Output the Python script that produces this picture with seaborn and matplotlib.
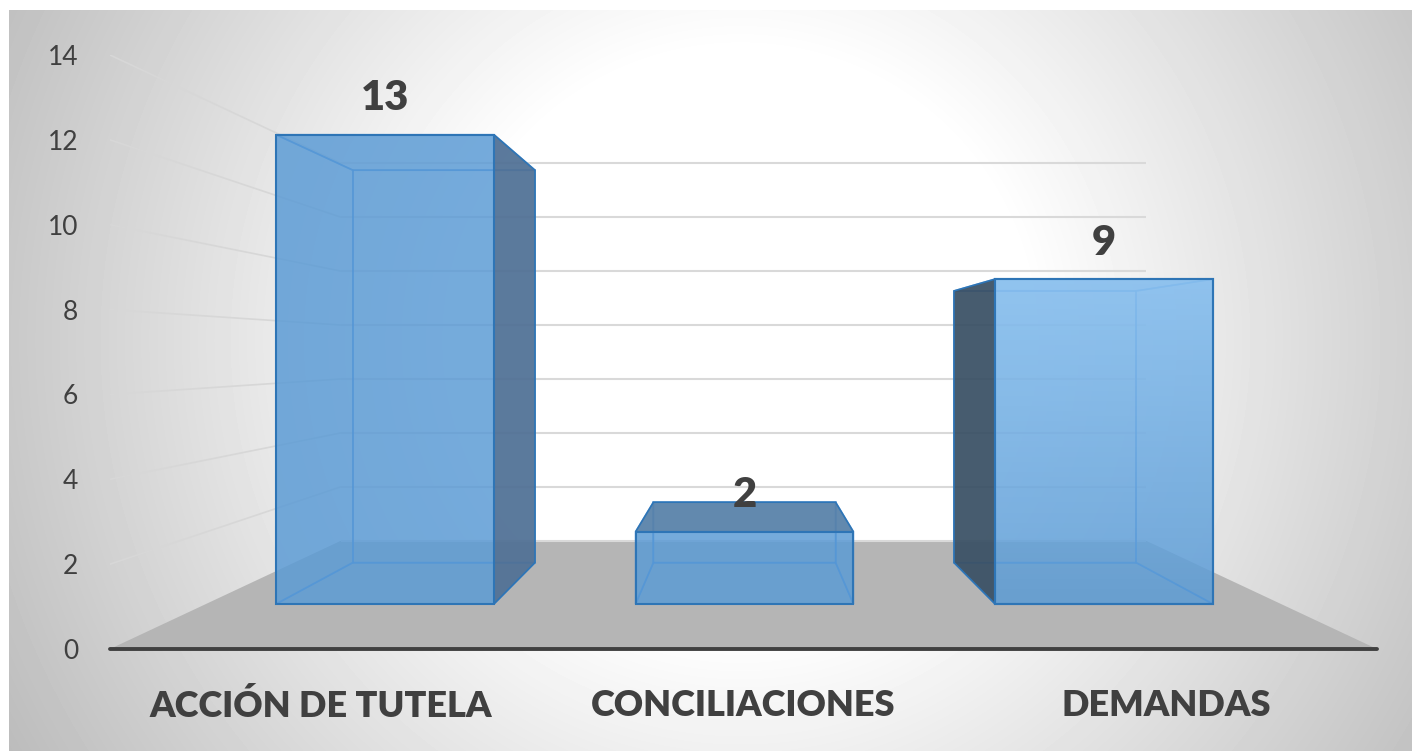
### 3D style bar chart, drawn with a perspective projection on top of seaborn bars.

import matplotlib
matplotlib.use('Agg')
import matplotlib.pyplot as plt
import numpy as np
import pandas as pd
import seaborn as sns
from matplotlib.colors import to_rgba
from matplotlib.patches import Polygon

categories = ['ACCIÓN DE TUTELA', 'CONCILIACIONES', 'DEMANDAS']
values = [13, 2, 9]
yticks = [0, 2, 4, 6, 8, 10, 12, 14]
bar_colors = ['#5b9bd5', '#5b9bd5', '#5b9bd5']

W, H = 1412, 751
TEXT = '#404040'
LINE = '#2e75b6'
VANISH = (1, 7)  # same point in the data coords of both axes
K_BARS = 0.836
K_WALL = 0.636

sns.set_theme(style='white')
plt.rcParams['font.family'] = ['Lato', 'DejaVu Sans']


def px_axes(fig, left, top, right, bottom):
  return fig.add_axes([left / W, 1 - bottom / H, (right - left) / W, (bottom - top) / H])


def back(x, y, k):
  return (VANISH[0] + k * (x - VANISH[0]), VANISH[1] + k * (y - VANISH[1]))


fig = plt.figure(figsize=(W / 100, H / 100), dpi=100, facecolor='white')

# background panel with the radial fade
ax_bg = px_axes(fig, 9, 10, W, H)
xx, yy = np.meshgrid(np.arange(9, W), np.arange(10, H))
r = np.hypot(xx - 740, yy - 340)
ax_bg.imshow(np.clip(1 - (r - 290) * 0.24 / 500, 0, 1), cmap='gray', vmin=0, vmax=1, aspect='auto')
ax_bg.set_xticks([])
ax_bg.set_yticks([])
sns.despine(ax=ax_bg, left=True, right=True, bottom=True)
ax_bg.spines['top'].set_color('#bdbdbd')
ax_bg.spines['top'].set_linewidth(1.5)

# wall and floor, this axes carries the real tick labels
ax_wall = px_axes(fig, 110, 55, 1377, 649)
ax_wall.set_facecolor('none')
ax_wall.set_xlim(-0.5, 2.5)
ax_wall.set_ylim(0, 14)
ax_wall.set_xticks(range(len(categories)), categories, fontsize=26, fontweight='heavy', color=TEXT)
ax_wall.set_yticks(yticks, [str(t) for t in yticks], fontsize=19, color=TEXT)
ax_wall.tick_params(axis='x', length=0, pad=29)
ax_wall.tick_params(axis='y', length=0, pad=23)
sns.despine(ax=ax_wall, left=True)
ax_wall.spines['bottom'].set_color(TEXT)
ax_wall.spines['bottom'].set_linewidth(2.8)
ax_wall.spines['bottom'].set_capstyle('round')

floor = [(-0.5, 0), (2.5, 0), back(2.5, 0, K_WALL), back(-0.5, 0, K_WALL)]
ax_wall.add_patch(Polygon(floor, closed=True, facecolor='#b5b5b5', edgecolor='none', zorder=1))
for t in yticks:
  x0, y0 = back(-0.5, t, K_WALL)
  x1, y1 = back(2.5, t, K_WALL)
  ax_wall.plot([x0, x1], [y0, y1], color='#d9d9d9', lw=1.5, zorder=2, solid_capstyle='butt')
  if t > 0:
    ax_wall.plot([-0.5, x0], [t, y0], color='#d7d7d7', lw=1.2, zorder=2)

# bars, front faces come from seaborn and the rest is projected from them
ax = px_axes(fig, 0, 0, W, H)
ax.set_facecolor('none')
df = pd.DataFrame({'categoria': categories, 'valor': values})
sns.barplot(data=df, x='categoria', y='valor', hue='categoria', palette=bar_colors,
            width=0.606, legend=False, saturation=1, ax=ax)

bars = sorted(ax.patches, key=lambda b: b.get_x())
for i, bar in enumerate(bars):
  col = bar_colors[i]
  bar.set_facecolor(to_rgba(col, 0.6))
  bar.set_edgecolor(LINE)
  bar.set_linewidth(1.5)
  bar.set_zorder(3)
  x0, x1 = bar.get_x(), bar.get_x() + bar.get_width()
  y0, y1 = 0, bar.get_height()
  bl, br, tr, tl = (x0, y0), (x1, y0), (x1, y1), (x0, y1)
  bl2, br2, tr2, tl2 = [back(*p, K_BARS) for p in (bl, br, tr, tl)]
  thin = dict(edgecolor=to_rgba('#4a90d9', 0.7), linewidth=1.2, zorder=2)
  ax.add_patch(Polygon([bl2, br2, tr2, tl2], closed=True, facecolor=to_rgba(col, 0.6), **thin))
  inner = [[bl, br, br2, bl2]]
  if i == 0:
    inner += [[tl, tr, tr2, tl2], [bl, tl, tl2, bl2]]
    dark = [br, tr, tr2, br2]
    dark_col = '#506d8f'
  elif i == 2:
    inner += [[tl, tr, tr2, tl2], [br, tr, tr2, br2]]
    dark = [bl, tl, tl2, bl2]
    dark_col = '#384a5a'
  else:
    inner += [[bl, tl, tl2, bl2], [br, tr, tr2, br2]]
    dark = [tl, tr, tr2, tl2]
    dark_col = '#587fa5'
  for pts in inner:
    ax.add_patch(Polygon(pts, closed=True, facecolor=to_rgba(col, 0.6), **thin))
  ax.add_patch(Polygon(dark, closed=True, facecolor=to_rgba(dark_col, 0.85),
                       edgecolor=LINE, linewidth=1.2, zorder=2.5))

# the last bar is lit from above, its outline goes back on top of the glow
glow = np.zeros((64, 2, 4))
glow[..., :3] = to_rgba('#a8d8ff')[:3]
glow[..., 3] = np.linspace(0.55, 0, 64)[:, None]
last = bars[-1]
lx0, lx1, lh = last.get_x(), last.get_x() + last.get_width(), last.get_height()
im = ax.imshow(glow, aspect='auto', zorder=3.5, extent=(lx0, lx1, 0, lh))
im.set_clip_path(last)
ax.add_patch(Polygon([(lx0, 0), (lx1, 0), (lx1, lh), (lx0, lh)], closed=True, facecolor='none',
                     edgecolor=LINE, linewidth=1.5, zorder=4))

ax.set_xlim((0 - 385) / 359.5, (W - 385) / 359.5)
ax.set_ylim((604 - H) / 36.1, 604 / 36.1)
ax.axis('off')

for c in ax.containers:
  ax.bar_label(c, padding=12.5, fontsize=30, fontweight='heavy', color=TEXT, zorder=5)

fig.savefig('out.png', dpi=100)
